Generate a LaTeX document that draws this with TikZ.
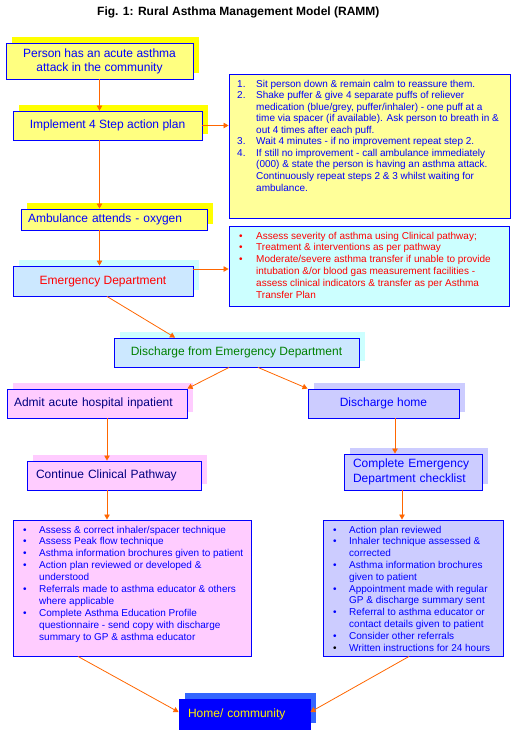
\documentclass[tikz,border=0pt]{standalone}
\usepackage{fontspec}
\setmainfont{Liberation Sans}
\usetikzlibrary{shadows,arrows.meta}
\definecolor{bblue}{RGB}{0,0,255}
\definecolor{aorange}{RGB}{255,102,0}
\definecolor{ylite}{RGB}{255,255,128}
\definecolor{ysh}{RGB}{255,255,0}
\definecolor{ystep}{RGB}{255,255,153}
\definecolor{cyanl}{RGB}{204,255,255}
\definecolor{bluel}{RGB}{204,232,255}
\definecolor{pinkf}{RGB}{255,204,255}
\definecolor{lav}{RGB}{204,204,255}
\definecolor{navyt}{RGB}{0,0,128}
\definecolor{homesh}{RGB}{51,102,255}
\definecolor{greent}{RGB}{0,128,0}
\definecolor{redt}{RGB}{255,0,0}
\begin{document}
\begin{tikzpicture}[x=1pt,y=-1pt,
  box/.style={draw=bblue, line width=0.9pt, inner sep=0pt, font=\fontsize{12}{14}\selectfont},
  one/.style={text height=8.6pt, text depth=2.5pt},
  sh/.style={general shadow={shadow xshift=6pt, shadow yshift=6pt, fill=#1}},
  lst/.style={anchor=base west, inner sep=0pt},
  arr/.style={draw=aorange, line width=0.8pt, -{Triangle[length=5pt,width=5.5pt]}}]
\useasboundingbox (0,0) rectangle (514,732);
\node[font=\bfseries\fontsize{12}{14}\selectfont, anchor=base west, inner sep=0pt] (title) at (97,15) {Fig. 1: Rural Asthma Management Model (RAMM)};

\node[box, sh=ysh, fill=ylite, text=bblue, minimum width=187pt, minimum height=36pt, align=center] (person) at (99.5,61) {Person has an acute asthma\\attack in the community};
\node[box, one, sh=ysh, fill=ylite, text=bblue, minimum width=189pt, minimum height=29pt] (implement) at (107.5,125.5) {Implement 4 Step action plan};
\node[box, fill=ystep, minimum width=281pt, minimum height=144pt] (steps) at (369.5,146) {};
\node[lst, text=bblue, font=\fontsize{10}{11.56}\selectfont] (stepsT) at (237,87) {\begin{tabular}[t]{@{}p{19pt}@{}l@{}}
1. & Sit person down \& remain calm to reassure them.\\
2. & Shake puffer \& give 4 separate puffs of reliever\\
 & medication (blue/grey, puffer/inhaler) - one puff at a\\
 & time via spacer (if available). Ask person to breath in \&\\
 & out 4 times after each puff.\\
3. & Wait 4 minutes - if no improvement repeat step 2.\\
4. & If still no improvement - call ambulance immediately\\
 & (000) \& state the person is having an asthma attack.\\
 & Continuously repeat steps 2 \& 3 whilst waiting for\\
 & ambulance.
\end{tabular}};

\node[box, one, sh=ysh, fill=ylite, text=bblue, text width=172pt, inner xsep=7pt, align=left, minimum height=21pt] (amb) at (114,219.5) {Ambulance attends - oxygen};
\node[box, one, sh=cyanl, fill=bluel, text=redt, minimum width=180pt, minimum height=30pt] (ED) at (103,281) {Emergency Department};
\node[box, fill=cyanl, minimum width=280pt, minimum height=80pt] (EDlist) at (369,266) {};
\node[lst, text=redt, font=\fontsize{10}{11.9}\selectfont] (EDlistT) at (239,239) {\begin{tabular}[t]{@{}p{17pt}@{}l@{}}
\textbullet & Assess severity of asthma using Clinical pathway;\\
\textbullet & Treatment \& interventions as per pathway\\
\textbullet & Moderate/severe asthma transfer if unable to provide\\
 & intubation \&/or blood gas measurement facilities -\\
 & assess clinical indicators \& transfer as per Asthma\\
 & Transfer Plan
\end{tabular}};

\node[box, one, sh=cyanl, fill=bluel, text=greent, minimum width=245pt, minimum height=29pt] (discharge) at (236.5,352.5) {Discharge from Emergency Department};
\node[box, one, sh=pinkf, fill=pinkf, text=navyt, text width=166pt, inner xsep=7pt, align=left, minimum height=29pt] (admit) at (97,403.5) {Admit acute hospital inpatient};
\node[box, one, sh=lav, fill=lav, text=bblue, minimum width=151pt, minimum height=29pt] (dhome) at (383.5,403.5) {Discharge home};
\node[box, one, sh=pinkf, fill=pinkf, text=navyt, text width=156pt, inner xsep=9pt, align=left, minimum height=29pt] (continue) at (114,475.5) {Continue Clinical Pathway};
\node[box, sh=lav, fill=lav, text=bblue, text width=120pt, inner xsep=9pt, align=left, minimum height=36pt, font=\fontsize{12}{14.5}\selectfont] (checklist) at (413,472) {Complete Emergency\\Department checklist};

\node[box, fill=pinkf, minimum width=238pt, minimum height=136pt] (pinklist) at (132,588) {};
\node[lst, text=bblue, font=\fontsize{10}{11.9}\selectfont] (pinklistT) at (23,533) {\begin{tabular}[t]{@{}p{16pt}@{}l@{}}
\textbullet & Assess \& correct inhaler/spacer technique\\
\textbullet & Assess Peak flow technique\\
\textbullet & Asthma information brochures given to patient\\
\textbullet & Action plan reviewed or developed \&\\
 & understood\\
\textbullet & Referrals made to asthma educator \& others\\
 & where applicable\\
\textbullet & Complete Asthma Education Profile\\
 & questionnaire - send copy with discharge\\
 & summary to GP \& asthma educator
\end{tabular}};

\node[box, fill=lav, minimum width=180pt, minimum height=136pt] (lavlist) at (413,588) {};
\node[lst, text=bblue, font=\fontsize{10}{11.8}\selectfont] (lavlistT) at (333,533) {\begin{tabular}[t]{@{}p{16pt}@{}l@{}}
\textbullet & Action plan reviewed\\
\textbullet & Inhaler technique assessed \&\\
 & corrected\\
\textbullet & Asthma information brochures\\
 & given to patient\\
\textbullet & Appointment made with regular\\
 & GP \& discharge summary sent\\
\textbullet & Referral to asthma educator or\\
 & contact details given to patient\\
\textbullet & Consider other referrals\\
\textcolor{black}{\textbullet} & Written instructions for 24 hours
\end{tabular}};

\node[box, one, sh=homesh, fill=bblue, text=yellow, text width=113pt, inner xsep=9pt, align=left, minimum height=30pt] (home) at (244.5,714) {Home/ community};

\draw[arr] (person.south) -- (person.south |- implement.north);
\draw[arr] (implement.east) -- (implement.east -| steps.west);
\draw[arr] (person.south |- implement.south) -- (person.south |- amb.north);
\draw[arr] (person.south |- amb.south) -- (person.south |- ED.north);
\coordinate (edout) at ([yshift=12pt]ED.east);
\draw[arr] (edout) -- (edout -| EDlist.west);
\draw[arr] ([xshift=4pt]ED.south) -- ([xshift=-61.5pt]discharge.north);
\draw[arr] ([xshift=-7.5pt]discharge.south) -- (admit.north east);
\draw[arr] ([xshift=21.5pt]discharge.south) -- (dhome.north west);
\draw[arr] ([xshift=10pt]admit.south) -- ([xshift=-7pt]continue.north);
\draw[arr] ([xshift=11.5pt]dhome.south) -- ([xshift=-18pt]checklist.north);
\draw[arr] ([xshift=-7pt]continue.south) -- ([xshift=-25pt]pinklist.north);
\draw[arr] ([xshift=-11pt]checklist.south) -- ([xshift=-11pt]lavlist.north);
\draw[arr] ([xshift=-54pt]pinklist.south) -- ([yshift=2pt]home.west);
\draw[arr] ([xshift=-4pt]lavlist.south) -- ([yshift=2pt]home.east);
\end{tikzpicture}
\end{document}
